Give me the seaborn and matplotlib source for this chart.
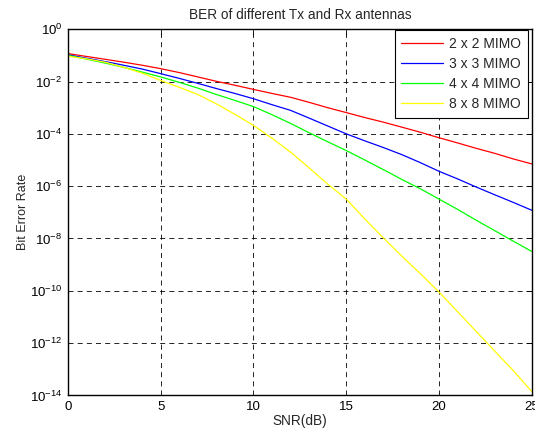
import pandas as pd
import seaborn as sns
import matplotlib
matplotlib.use("Agg")
import matplotlib.pyplot as plt
from matplotlib.ticker import FixedLocator, NullLocator, LogFormatterMathtext

snr = list(range(0, 26))

ber_2x2 = [0.117, 0.091, 0.071, 0.055, 0.042, 0.031, 0.022, 0.015, 0.0102, 0.0072,
           0.005, 0.0035, 0.0025, 0.0016, 1.0e-3, 6.5e-4, 4.2e-4, 2.8e-4, 1.8e-4,
           1.15e-4, 7.1e-5, 4.5e-5, 2.8e-5, 1.8e-5, 1.1e-5, 7.1e-6]
ber_3x3 = [0.105, 0.078, 0.058, 0.042, 0.030, 0.020, 0.0132, 0.0085, 0.0054, 0.0035,
           0.0022, 1.3e-3, 7.9e-4, 4.0e-4, 2.0e-4, 1.0e-4, 5.4e-5, 3.0e-5, 1.6e-5,
           7.9e-6, 3.7e-6, 1.9e-6, 9.3e-7, 4.7e-7, 2.4e-7, 1.2e-7]
ber_4x4 = [0.1, 0.072, 0.051, 0.035, 0.023, 0.015, 0.0093, 0.0056, 0.0032, 0.0019,
           1.1e-3, 5.4e-4, 2.5e-4, 1.1e-4, 5.0e-5, 2.3e-5, 1.0e-5, 4.3e-6, 1.8e-6,
           7.9e-7, 3.2e-7, 1.3e-7, 5.0e-8, 2.0e-8, 7.9e-9, 3.2e-9]
ber_8x8 = [0.093, 0.074, 0.055, 0.035, 0.021, 0.011, 0.006, 0.0032, 1.4e-3, 5.6e-4,
           2.1e-4, 6.8e-5, 2.0e-5, 5.0e-6, 1.2e-6, 3.2e-7, 5.6e-8, 1.05e-8, 2.1e-9,
           4.5e-10, 8.9e-11, 1.6e-11, 2.8e-12, 5.0e-13, 8.9e-14, 1.4e-14]

labels = ["2 x 2 MIMO", "3 x 3 MIMO", "4 x 4 MIMO", "8 x 8 MIMO"]
colors = ["#ff0000", "#0000ff", "#00ff00", "#ffff00"]

frames = []
for lab, vals in zip(labels, [ber_2x2, ber_3x3, ber_4x4, ber_8x8]):
    frames.append(pd.DataFrame({"SNR": snr, "BER": vals, "system": lab}))
df = pd.concat(frames, ignore_index=True)

sns.set_style("white")
plt.rcParams["font.family"] = ["Liberation Sans", "DejaVu Sans"]
plt.rcParams["mathtext.fontset"] = "custom"
plt.rcParams["mathtext.rm"] = "Liberation Sans"
plt.rcParams["mathtext.it"] = "Liberation Sans"

fig = plt.figure(figsize=(5.35, 4.36), dpi=100)
ax = fig.add_axes([0.127, 0.093, 0.867, 0.84])

sns.lineplot(data=df, x="SNR", y="BER", hue="system", palette=colors,
             linewidth=0.9, ax=ax)

ax.set_yscale("log")
ax.set_xlim(0, 25)
ax.set_ylim(1e-14, 1)
ax.yaxis.set_major_locator(FixedLocator([10.0 ** -k for k in range(0, 15, 2)]))
ax.yaxis.set_major_formatter(LogFormatterMathtext())
ax.yaxis.set_minor_locator(NullLocator())
ax.set_xticks([0, 5, 10, 15, 20, 25])

ax.grid(True, color="black", linestyle=(0, (6, 5)), linewidth=0.6)
ax.tick_params(direction="in", length=4, width=0.6, labelsize=9.5,
               top=True, right=True, colors="black", pad=4)
for sp in ax.spines.values():
    sp.set_color("black")
    sp.set_linewidth(1.0)

ax.set_title("BER of different Tx and Rx antennas", fontsize=9.8, pad=7)
ax.set_xlabel("SNR(dB)", fontsize=9.8, labelpad=1)
ax.set_ylabel("Bit Error Rate", fontsize=9, labelpad=0.7)

leg = ax.legend(loc="upper right", bbox_to_anchor=(0.991, 0.997),
                fontsize=10, frameon=True, fancybox=False,
                edgecolor="black", framealpha=1, borderaxespad=0,
                handlelength=3.0, handletextpad=0.4, labelspacing=0.42,
                borderpad=0.5)
leg.get_frame().set_linewidth(0.8)
leg.set_title(None)

fig.savefig("out.png", dpi=100)
